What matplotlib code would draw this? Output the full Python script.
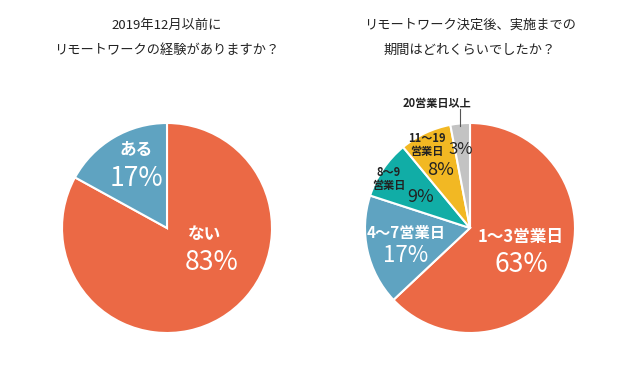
import matplotlib.pyplot as plt

plt.rcParams['font.family'] = ['Noto Sans CJK JP', 'DejaVu Sans']

# left pie: experience of remote work before Dec 2019
leftLabels = ["ない", "ある"]
leftValues = [83, 17]
leftColors = ['#EB6945', '#5FA3C1']

# right pie: days until remote work started
rightLabels = ["1〜3営業日", "4〜7営業日", "8〜9\n営業日", "11〜19\n営業日", "20営業日以上"]
rightValues = [63, 17, 9, 8, 3]
rightColors = ['#EB6945', '#5FA3C1', '#11ADA6', '#F2B823', '#C3C3C3']

W, H = 635, 368
fig = plt.figure(figsize=(W / 100, H / 100), dpi=100)
ax = fig.add_axes([0, 0, 1, 1])

pctFont = ['Liberation Sans Narrow', 'Noto Sans CJK JP', 'DejaVu Sans']
wedgeStyle = dict(edgecolor='white', linewidth=1.5)

def Y(py):
    # convert pixel row to data y
    return H - py

# left pie
ax.pie(leftValues, colors=leftColors, startangle=90, counterclock=False,
       center=(167, Y(228)), radius=105, wedgeprops=wedgeStyle, frame=True)
ax.text(167, Y(25), "2019年12月以前に", ha='center', va='center', fontsize=9.5, color='#222222')
ax.text(167, Y(50), "リモートワークの経験がありますか？", ha='center', va='center', fontsize=9.5, color='#222222')

ax.text(136, Y(150), leftLabels[1], ha='center', va='center', fontsize=12, fontweight='bold', color='white')
ax.text(136, Y(179), f"{leftValues[1]}%", ha='center', va='center', fontsize=19, color='white', family=pctFont)
ax.text(205, Y(234), leftLabels[0], ha='center', va='center', fontsize=12, fontweight='bold', color='white')
ax.text(212, Y(263), f"{leftValues[0]}%", ha='center', va='center', fontsize=19, color='white', family=pctFont)

# right pie
ax.pie(rightValues, colors=rightColors, startangle=90, counterclock=False,
       center=(470, Y(228)), radius=105, wedgeprops=wedgeStyle, frame=True)
ax.set_xlim(0, W)
ax.set_ylim(0, H)
ax.set_aspect('equal')
ax.axis('off')
ax.text(470, Y(25), "リモートワーク決定後、実施までの", ha='center', va='center', fontsize=9.5, color='#222222')
ax.text(470, Y(50), "期間はどれくらいでしたか？", ha='center', va='center', fontsize=9.5, color='#222222')

ax.text(521, Y(237), rightLabels[0], ha='center', va='center', fontsize=12, fontweight='bold', color='white')
ax.text(521, Y(265), f"{rightValues[0]}%", ha='center', va='center', fontsize=19, color='white', family=pctFont)
ax.text(406, Y(233), rightLabels[1], ha='center', va='center', fontsize=11, fontweight='bold', color='white')
ax.text(406, Y(256), f"{rightValues[1]}%", ha='center', va='center', fontsize=16, color='white', family=pctFont)

ax.text(389, Y(179), rightLabels[2], ha='center', va='center', fontsize=8, fontweight='bold',
        color='#222222', linespacing=1.1)
ax.text(421, Y(197), f"{rightValues[2]}%", ha='center', va='center', fontsize=13, color='#222222', family=pctFont)
ax.text(427, Y(145), rightLabels[3], ha='center', va='center', fontsize=8, fontweight='bold',
        color='#222222', linespacing=1.1)
ax.text(441, Y(170), f"{rightValues[3]}%", ha='center', va='center', fontsize=13, color='#222222', family=pctFont)
ax.text(461, Y(150), f"{rightValues[4]}%", ha='center', va='center', fontsize=12, color='#222222', family=pctFont)

ax.text(437, Y(103), rightLabels[4], ha='center', va='center', fontsize=8, fontweight='bold', color='#222222')
ax.plot([460, 460], [Y(109), Y(126)], color='#555555', linewidth=0.8)

fig.savefig("out.png", dpi=100, facecolor='white')
